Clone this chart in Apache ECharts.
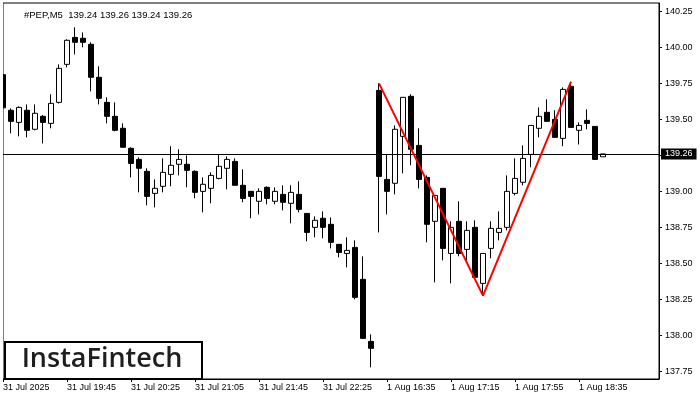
<!DOCTYPE html>
<html>
<head>
<meta charset="utf-8">
<script src="https://cdn.jsdelivr.net/npm/echarts@6/dist/echarts.min.js"></script>
<style>
html,body{margin:0;padding:0;background:#fff;}
#c{width:700px;height:400px;}
</style>
</head>
<body>
<div id="c"></div>
<script>
// time categories (5-minute bars), last 7 are empty future slots
var categories = [
 '31 Jul 19:05','31 Jul 19:10','31 Jul 19:15','31 Jul 19:20','31 Jul 19:25','31 Jul 19:30','31 Jul 19:35','31 Jul 19:40',
 '31 Jul 19:45','31 Jul 19:50','31 Jul 19:55','31 Jul 20:00','31 Jul 20:05','31 Jul 20:10','31 Jul 20:15','31 Jul 20:20',
 '31 Jul 20:25','31 Jul 20:30','31 Jul 20:35','31 Jul 20:40','31 Jul 20:45','31 Jul 20:50','31 Jul 20:55','31 Jul 21:00',
 '31 Jul 21:05','31 Jul 21:10','31 Jul 21:15','31 Jul 21:20','31 Jul 21:25','31 Jul 21:30','31 Jul 21:35','31 Jul 21:40',
 '31 Jul 21:45','31 Jul 21:50','31 Jul 21:55','31 Jul 22:00','31 Jul 22:05','31 Jul 22:10','31 Jul 22:15','31 Jul 22:20',
 '31 Jul 22:25','31 Jul 22:30','31 Jul 22:35','31 Jul 22:40','31 Jul 22:45','31 Jul 22:50','31 Jul 22:55','1 Aug 16:30',
 '1 Aug 16:35','1 Aug 16:40','1 Aug 16:45','1 Aug 16:50','1 Aug 16:55','1 Aug 17:00','1 Aug 17:05','1 Aug 17:10',
 '1 Aug 17:15','1 Aug 17:20','1 Aug 17:25','1 Aug 17:30','1 Aug 17:35','1 Aug 17:40','1 Aug 17:45','1 Aug 17:50',
 '1 Aug 17:55','1 Aug 18:00','1 Aug 18:05','1 Aug 18:10','1 Aug 18:15','1 Aug 18:20','1 Aug 18:25','1 Aug 18:30',
 '1 Aug 18:35','1 Aug 18:40','1 Aug 18:45','1 Aug 18:50','1 Aug 18:55','1 Aug 19:00','1 Aug 19:05','1 Aug 19:10',
 '1 Aug 19:15','1 Aug 19:20','1 Aug 19:25'
];
var xTickLabels = ['31 Jul 2025','31 Jul 19:45','31 Jul 20:25','31 Jul 21:05','31 Jul 21:45','31 Jul 22:25','1 Aug 16:35','1 Aug 17:15','1 Aug 17:55','1 Aug 18:35'];
var yTickValues = [137.75,138.00,138.25,138.50,138.75,139.00,139.25,139.50,139.75,140.00,140.25];

var openP = [139.81,139.563,139.479,139.563,139.431,139.521,139.472,139.618,139.882,140.069,140.063,140.021,139.792,139.618,139.521,139.438,
 139.299,139.222,139.139,138.986,139.035,139.118,139.188,139.188,139.139,139.0,139.021,139.09,139.16,139.208,139.042,139.0,
 138.931,139.028,138.931,138.979,138.917,138.979,138.847,138.75,138.813,138.771,138.632,138.569,138.611,138.389,137.958,139.701,
 139.083,139.056,139.382,139.66,139.319,139.097,138.792,139.021,138.569,138.792,138.597,138.75,138.361,138.604,138.715,138.75,
 138.986,139.063,139.257,139.438,139.549,139.5,139.368,139.729,139.424,139.493,139.451,139.24];
var highP = [139.83,139.576,139.59,139.604,139.604,139.53,139.674,139.882,140.056,140.139,140.104,140.035,139.868,139.653,139.618,139.472,
 139.306,139.236,139.16,139.083,139.229,139.313,139.292,139.25,139.146,139.097,139.132,139.257,139.243,139.229,139.153,139.0,
 139.021,139.035,139.028,139.042,139.042,139.069,138.847,138.826,138.861,138.819,138.632,138.681,138.66,138.549,138.007,139.75,
 139.257,139.458,139.653,139.674,139.438,139.111,138.972,139.021,138.792,138.931,138.792,138.799,138.569,138.792,138.861,139.111,
 139.229,139.319,139.458,139.583,139.639,139.563,139.722,139.743,139.479,139.569,139.451,139.26];
var lowP = [139.58,139.403,139.382,139.375,139.424,139.333,139.438,139.61,139.861,139.951,140.0,139.694,139.604,139.472,139.417,139.306,
 139.097,138.993,138.903,138.889,138.993,139.035,139.111,139.028,138.951,138.854,138.917,139.083,139.014,139.042,138.924,138.813,
 138.84,138.91,138.91,138.868,138.778,138.854,138.653,138.681,138.674,138.604,138.542,138.472,138.25,137.979,137.778,138.715,
 138.84,138.979,139.125,139.181,139.021,138.646,138.368,138.521,138.361,138.549,138.521,138.403,138.292,138.535,138.66,138.729,
 138.972,139.042,139.167,139.375,139.486,139.375,139.313,139.444,139.326,139.431,139.222,139.24];
var closeP = [139.58,139.486,139.583,139.424,139.542,139.479,139.611,139.854,140.049,140.035,140.035,139.792,139.646,139.521,139.424,139.306,
 139.194,139.16,138.965,139.021,139.132,139.181,139.222,139.146,138.993,139.049,139.111,139.174,139.222,139.042,138.951,138.965,
 139.0,138.951,139.0,138.924,138.993,138.875,138.715,138.799,138.75,138.646,138.576,138.59,138.264,137.979,137.91,139.104,
 139.0,139.431,139.653,139.292,139.083,138.771,138.972,138.604,138.75,138.569,138.729,138.403,138.569,138.743,138.743,139.0,
 139.09,139.229,139.458,139.521,139.486,139.375,139.708,139.444,139.458,139.472,139.222,139.26];

// double top pattern pivots
var patternIdx = [47, 60, 71];
var patternVal = [139.75, 138.276, 139.762];
var lastPrice = 139.26;
var titleText = '#PEP,M5  139.24 139.26 139.24 139.26';
var logoText = 'InstaFintech';

var candleData = categories.map(function (c, i) {
  if (i >= openP.length) return '-';
  return [openP[i], closeP[i], lowP[i], highP[i]];
});
var patternData = patternIdx.map(function (ix, j) { return [ix, patternVal[j]]; });

var chart = echarts.init(document.getElementById('c'), null, {renderer: 'canvas'});
var tickInterval = function (i) { return i % 8 === 0 && i <= 72; };
chart.setOption({
  animation: false,
  backgroundColor: '#ffffff',
  title: {
    text: titleText, left: 19, top: 5,
    textStyle: {fontFamily: 'Liberation Sans', fontSize: 9.5, fontWeight: 'normal', color: '#000'}
  },
  grid: {left: 3, right: 41, top: 3, bottom: 21, show: true, borderColor: '#000', borderWidth: 1, backgroundColor: '#fff'},
  xAxis: {
    type: 'category', data: categories, boundaryGap: false,
    axisLine: {show: true, lineStyle: {color: '#000', width: 1}},
    axisTick: {show: true, interval: tickInterval, length: 3, lineStyle: {color: '#000'}},
    axisLabel: {
      interval: tickInterval, align: 'left', margin: 4,
      fontFamily: 'Liberation Sans', fontSize: 9, color: '#000',
      formatter: function (v, i) { return xTickLabels[i / 8]; }
    },
    splitLine: {show: false}
  },
  yAxis: {
    type: 'value', position: 'right', min: 137.697, max: 140.308, scale: true,
    axisLine: {show: true, lineStyle: {color: '#000', width: 1}},
    axisTick: {show: true, length: 3, lineStyle: {color: '#000'}, customValues: yTickValues},
    axisLabel: {
      margin: 6, fontFamily: 'Liberation Sans', fontSize: 9, color: '#000',
      customValues: yTickValues,
      formatter: function (v) { return v.toFixed(2); }
    },
    splitLine: {show: false}
  },
  series: [
    {
      type: 'candlestick', data: candleData, barWidth: 5, clip: true,
      itemStyle: {color: '#ffffff', color0: '#000000', borderColor: '#000000', borderColor0: '#000000', borderWidth: 1},
      markLine: {
        silent: true, symbol: 'none', animation: false,
        lineStyle: {color: '#000', width: 1, type: 'solid'},
        label: {
          show: true, position: 'end', distance: 2,
          formatter: lastPrice.toFixed(2),
          backgroundColor: '#000', color: '#fff', padding: [1, 4, 1, 4],
          fontFamily: 'Liberation Sans', fontSize: 9
        },
        data: [{yAxis: lastPrice}]
      }
    },
    {
      type: 'line', data: patternData, symbol: 'none', z: 5,
      lineStyle: {color: '#ff0000', width: 2}
    }
  ],
  graphic: [
    {
      type: 'rect', left: 0, top: 0, z: 100,
      shape: {width: 3, height: 380},
      style: {fill: '#ffffff'}
    },
    {
      type: 'rect', left: 4, top: 341, z: 100,
      shape: {width: 197, height: 37},
      style: {fill: '#ffffff', stroke: '#000000', lineWidth: 2}
    },
    {
      type: 'text', x: 102, y: 359, z: 101,
      style: {text: logoText, fill: '#1e1e1e', font: '600 27px "Open Sans"', textAlign: 'center', textVerticalAlign: 'middle'}
    }
  ]
});
</script>
</body>
</html>
